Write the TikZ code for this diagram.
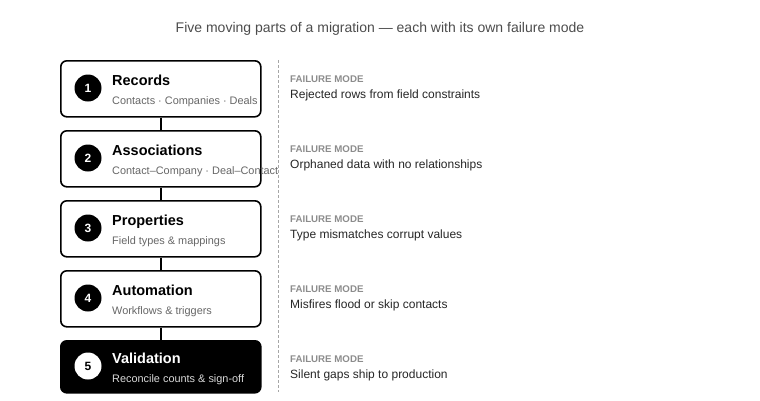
\documentclass[tikz,border=0pt]{standalone}
\usepackage{fontspec}
\setmainfont{Liberation Sans}
\begin{document}
\begin{tikzpicture}[x=1pt,y=-1pt,
 box/.style={draw=black,line width=1.6pt,rounded corners=6pt,minimum width=200pt,anchor=north west,inner sep=0pt},
 num/.style={circle,fill=black,text=white,minimum size=27pt,inner sep=0pt,font=\fontsize{12}{12}\selectfont\bfseries},
 head/.style={anchor=base west,font=\fontsize{14.5}{15}\selectfont\bfseries,inner sep=0pt},
 sub/.style={anchor=base west,font=\fontsize{10.9}{11}\selectfont,text=black!60,inner sep=0pt},
 fm/.style={anchor=base west,font=\fontsize{9.7}{10}\selectfont\bfseries,text=black!45,inner sep=0pt},
 ft/.style={anchor=base west,font=\fontsize{12}{12}\selectfont,text=black!85,inner sep=0pt},
 link/.style={line width=1.6pt}]
\useasboundingbox (0,0) rectangle (760,400);
\node[font=\fontsize{14}{14}\selectfont,text=black!70] (title) at (380,29) {Five moving parts of a migration — each with its own failure mode};
\draw[black!35,line width=1pt,dash pattern=on 3pt off 2pt] (278,60) coordinate (dt) -- (278,392) coordinate (db);
\foreach \i/\y/\h/\s/\f in {1/60/Records/Contacts · Companies · Deals/Rejected rows from field constraints,
 2/130/Associations/Contact–Company · Deal–Contact/Orphaned data with no relationships,
 3/200/Properties/Field types \& mappings/Type mismatches corrupt values,
 4/270/Automation/Workflows \& triggers/Misfires flood or skip contacts}{
 \node[box,minimum height=56pt] (b\i) at (60,\y) {};
 \node[num] (n\i) at (88,\y+28) {\i};
 \node[head] (h\i) at (112,\y+25) {\h};
 \node[sub] (s\i) at (112,\y+44) {\s};
 \node[fm] (fm\i) at (290,\y+22) {FAILURE MODE};
 \node[ft] (ft\i) at (290,\y+38) {\f};
}
\node[box,minimum height=52pt,fill=black] (b5) at (60,340) {};
\node[num,fill=white,text=black] (n5) at (88,366) {5};
\node[head,text=white] (h5) at (112,363) {Validation};
\node[sub,text=white!85!black] (s5) at (112,382) {Reconcile counts \& sign-off};
\node[fm] (fm5) at (290,362) {FAILURE MODE};
\node[ft] (ft5) at (290,378) {Silent gaps ship to production};
\foreach \a/\b in {1/2,2/3,3/4,4/5}{\draw[link] (b\a.south) -- (b\b.north);}
\end{tikzpicture}
\end{document}
